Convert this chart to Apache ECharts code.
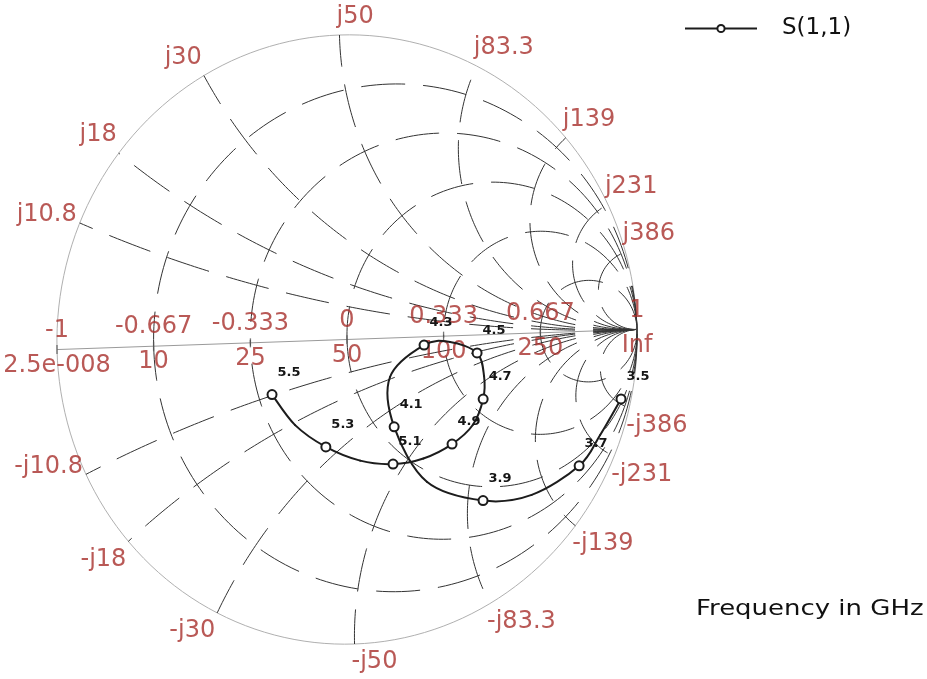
<!DOCTYPE html>
<html>
<head>
<meta charset="utf-8">
<title>S(1,1) Smith chart</title>
<script src="https://cdn.jsdelivr.net/npm/echarts@6/dist/echarts.min.js"></script>
<style>
  html, body { margin: 0; padding: 0; background: #ffffff; }
  #chart { width: 927px; height: 679px; }
</style>
</head>
<body>
<div id="chart"></div>
<script>
// ---- Reference impedance and Smith grid definition ----
const Z0 = 50;
const resistanceNorm = [0.2, 0.5, 1, 2, 5];
const reactanceOhms = [10.8, 18, 30, 50, 83.3, 139, 231, 386];
const axisTickGamma = [-1, -0.667, -0.333, 0, 0.333, 0.667, 1];
const axisTickUpper = ['-1', '-0.667', '-0.333', '0', '0.333', '0.667', '1'];
const axisTickLower = ['2.5e-008', '10', '25', '50', '100', '250', 'Inf'];

// ---- Measured S(1,1) sweep (reflection coefficient) ----
const freqGHz = [3.5, 3.6, 3.7, 3.8, 3.9, 4.0, 4.1, 4.2, 4.3, 4.4, 4.5,
                 4.6, 4.7, 4.8, 4.9, 5.0, 5.1, 5.2, 5.3, 5.4, 5.5];
const s11Re = [0.939, 0.864, 0.789, 0.623, 0.455, 0.263, 0.155, 0.145, 0.265, 0.355, 0.447,
               0.469, 0.464, 0.426, 0.353, 0.253, 0.148, 0.035, -0.082, -0.186, -0.263];
const s11Im = [-0.226, -0.342, -0.441, -0.531, -0.544, -0.476, -0.292, -0.128, -0.027, -0.020, -0.059,
               -0.135, -0.211, -0.295, -0.355, -0.399, -0.414, -0.399, -0.350, -0.275, -0.172];
const markedFreqGHz = [3.5, 3.7, 3.9, 4.1, 4.3, 4.5, 4.7, 4.9, 5.1, 5.3, 5.5];

// The printed chart sits slightly rotated on the page; apply that tilt to every point.
const TILT_X = -0.026;
const TILT_Y = 0.033;
function plot(re, im) {
  return [re + TILT_X * im, im + TILT_Y * re];
}

const RED = '#a8302c';
const INK = '#1c1c1c';
const LABEL_FONT = 'DejaVu Sans';
const GRID_STYLE = { color: '#333333', width: 1, type: [44, 18] };

const series = [];

function gridLine(points, style) {
  return {
    type: 'line', data: points, symbol: 'none', silent: true, clip: false,
    animation: false, lineStyle: style || GRID_STYLE, z: 1
  };
}

// Unit circle
const outer = [];
for (let k = 0; k <= 360; k += 2) {
  const t = k * Math.PI / 180;
  outer.push(plot(Math.cos(t), Math.sin(t)));
}
series.push(gridLine(outer, { color: '#b0b0b0', width: 1, type: 'solid' }));

// Real axis
series.push(gridLine([plot(-1, 0), plot(1, 0)], { color: '#9a9a9a', width: 1, type: 'solid' }));

// Constant-resistance circles, drawn from the open-circuit point outward
resistanceNorm.forEach(function (r) {
  const c = r / (1 + r), rad = 1 / (1 + r);
  [1, -1].forEach(function (sgn) {
    const pts = [];
    for (let k = 0; k <= 120; k++) {
      const t = sgn * Math.PI * k / 120;
      pts.push(plot(c + rad * Math.cos(t), rad * Math.sin(t)));
    }
    series.push(gridLine(pts));
  });
});

// Constant-reactance arcs, drawn from the open-circuit point to the rim
reactanceOhms.forEach(function (X) {
  const x = X / Z0;
  const span = 2 * Math.atan(x);
  [1, -1].forEach(function (sgn) {
    const pts = [];
    for (let k = 0; k <= 140; k++) {
      const phi = -Math.PI / 2 - span * k / 140;
      pts.push(plot(1 + Math.cos(phi) / x, sgn * (1 + Math.sin(phi)) / x));
    }
    series.push(gridLine(pts));
  });
});

// Real-axis tick marks
series.push({
  type: 'scatter', silent: true, clip: false, animation: false, z: 2,
  symbol: 'rect', symbolSize: [1.3, 9],
  itemStyle: { color: '#555555' },
  data: axisTickGamma.map(function (g) { return plot(g, 0); })
});

// Real-axis labels: reflection coefficient above, impedance below
function textPoint(value, name, label) {
  return { value: value, name: name, label: label };
}
const axisLabelData = [];
axisTickGamma.forEach(function (g, i) {
  axisLabelData.push(textPoint(plot(g, 0), axisTickUpper[i], { offset: [0, -19] }));
  axisLabelData.push(textPoint(plot(g, 0), axisTickLower[i], { offset: [0, 16] }));
});

// Rim labels for the reactance arcs
reactanceOhms.forEach(function (X) {
  const x = X / Z0;
  const th = Math.PI - 2 * Math.atan(x);
  const c = Math.cos(th), s = Math.sin(th);
  [1, -1].forEach(function (sgn) {
    const name = (sgn > 0 ? 'j' : '-j') + X;
    let align, dx, dy;
    if (c < -0.05) { align = 'right'; dx = -2; } else { align = 'left'; dx = -3; }
    dy = sgn > 0 ? -18 : 18;
    if (c < -0.85) { dy = -8; dx = -3; }
    axisLabelData.push(textPoint(plot(c, sgn * s), name, { align: align, offset: [dx, dy] }));
  });
});

series.push({
  type: 'scatter', silent: true, clip: false, animation: false, z: 3,
  symbolSize: 0,
  label: {
    show: true, position: 'inside', formatter: '{b}',
    color: RED, fontSize: 24, fontFamily: LABEL_FONT
  },
  data: axisLabelData
});

// S(1,1) trace: a Catmull-Rom curve through the sweep points, one segment per point
const sweepPoints = freqGHz.map(function (f, i) { return plot(s11Re[i], s11Im[i]); });
series.push({
  type: 'custom', coordinateSystem: 'cartesian2d', silent: true, clip: false,
  animation: false, z: 4,
  data: sweepPoints,
  encode: { x: 0, y: 1 },
  renderItem: function (params, api) {
    const n = sweepPoints.length;
    const i = params.dataIndex;
    if (i >= n - 1) return null;
    const at = function (k) {
      const j = Math.max(0, Math.min(n - 1, k));
      return api.coord(sweepPoints[j]);
    };
    const p0 = at(i - 1), p1 = at(i), p2 = at(i + 1), p3 = at(i + 2);
    return {
      type: 'bezierCurve',
      shape: {
        x1: p1[0], y1: p1[1], x2: p2[0], y2: p2[1],
        cpx1: p1[0] + (p2[0] - p0[0]) / 6, cpy1: p1[1] + (p2[1] - p0[1]) / 6,
        cpx2: p2[0] - (p3[0] - p1[0]) / 6, cpy2: p2[1] - (p3[1] - p1[1]) / 6
      },
      style: { stroke: INK, lineWidth: 2, fill: 'none', lineCap: 'round' }
    };
  }
});

// Frequency markers and their labels
const isMarked = function (i) {
  return markedFreqGHz.some(function (f) { return Math.abs(f - freqGHz[i]) < 1e-6; });
};
series.push({
  name: 'S(1,1)', type: 'line', clip: false, animation: false, z: 5,
  symbol: 'emptyCircle', showAllSymbol: true,
  symbolSize: function (v, p) { return isMarked(p.dataIndex) ? 9 : 0; },
  lineStyle: { color: INK, width: 2, opacity: 0 },
  itemStyle: { color: INK, borderWidth: 1.7 },
  label: {
    show: true, position: 'inside', offset: [17, -22],
    formatter: function (p) { return isMarked(p.dataIndex) ? String(freqGHz[p.dataIndex]) : ''; },
    color: '#161616', fontSize: 13, fontWeight: 'bold', fontFamily: LABEL_FONT
  },
  data: sweepPoints
});

const chart = echarts.init(document.getElementById('chart'), null, { renderer: 'canvas' });
chart.setOption({
  backgroundColor: '#ffffff',
  animation: false,
  grid: { left: 57, top: 35, width: 580, height: 609, containLabel: false },
  xAxis: { type: 'value', min: -1, max: 1, show: false },
  yAxis: { type: 'value', min: -1, max: 1, show: false },
  legend: {
    data: ['S(1,1)'], left: 679, top: 12,
    itemWidth: 72, itemHeight: 9,
    lineStyle: { color: INK, width: 2, opacity: 1 },
    textStyle: { color: '#111111', fontSize: 23, fontFamily: LABEL_FONT, padding: [0, 0, 0, 20] }
  },
  graphic: [{
    type: 'text', left: 696, top: 598, scaleX: 1.18,
    style: { text: 'Frequency in GHz', font: '22px "DejaVu Sans"', fill: '#111111' }
  }],
  series: series
});
</script>
</body>
</html>
